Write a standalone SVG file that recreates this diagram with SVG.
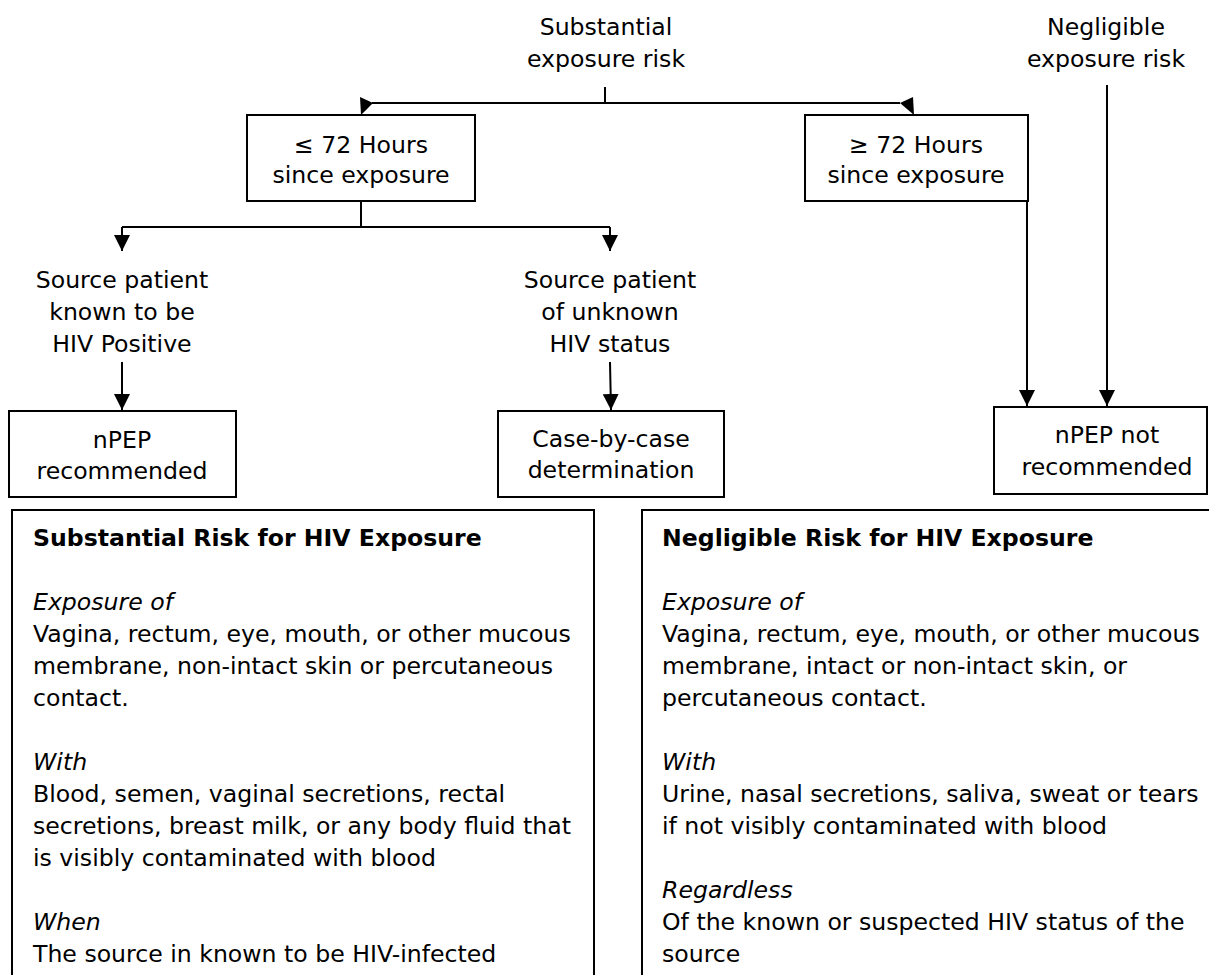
<svg xmlns="http://www.w3.org/2000/svg" width="1209" height="975" viewBox="0 0 1209 975">
<style>
.t{font-family:"DejaVu Sans",sans-serif;font-size:23.6px;fill:#000}
.c{text-anchor:middle}
.b{font-weight:bold}
.i{font-style:italic}
.box{fill:#fff;stroke:#000;stroke-width:2}
.ln{stroke:#000;stroke-width:2;fill:none}
.ah{fill:#000;stroke:none}
</style>
<defs>
<marker id="arr" markerUnits="userSpaceOnUse" markerWidth="16" markerHeight="16" viewBox="0 0 15 15" refX="15" refY="7.5" orient="auto">
<path d="M0,0 L15,7.5 L0,15 z" fill="#000"/>
</marker>
</defs>
<rect width="1209" height="975" fill="#fff"/>
<g id="connectors">
<path class="ln" d="M605,87 V103"/>
<path class="ln" d="M372,103 H900"/>
<polygon class="ah" points="360,97 373,103 361,115"/>
<polygon class="ah" points="900,103 913,97 914,115"/>
<path class="ln" d="M361,201 V227 M122,227 H610"/>
<path class="ln" d="M122,227 V251" marker-end="url(#arr)"/>
<path class="ln" d="M610,227 V251" marker-end="url(#arr)"/>
<path class="ln" d="M122,362 V410" marker-end="url(#arr)"/>
<path class="ln" d="M610,362 L611,410" marker-end="url(#arr)"/>
<path class="ln" d="M1027,158 V406" marker-end="url(#arr)"/>
<path class="ln" d="M1107,85 V406" marker-end="url(#arr)"/>
</g>
<g id="n-substantial">
<text class="t c" x="606" y="35">Substantial</text>
<text class="t c" x="606" y="67">exposure risk</text>
</g>
<g id="n-negligible">
<text class="t c" x="1106" y="35">Negligible</text>
<text class="t c" x="1106" y="67">exposure risk</text>
</g>
<g id="n-le72">
<rect class="box" x="247" y="115" width="228" height="86"/>
<text class="t c" x="361" y="153">≤ 72 Hours</text>
<text class="t c" x="361" y="183">since exposure</text>
</g>
<g id="n-ge72">
<rect class="box" x="805" y="115" width="223" height="86"/>
<text class="t c" x="916" y="153">≥ 72 Hours</text>
<text class="t c" x="916" y="183">since exposure</text>
</g>
<g id="n-known">
<text class="t c" x="122" y="288">Source patient</text>
<text class="t c" x="122" y="320">known to be</text>
<text class="t c" x="122" y="352">HIV Positive</text>
</g>
<g id="n-unknown">
<text class="t c" x="610" y="288">Source patient</text>
<text class="t c" x="610" y="320">of unknown</text>
<text class="t c" x="610" y="352">HIV status</text>
</g>
<g id="n-npep">
<rect class="box" x="9" y="411" width="227" height="86"/>
<text class="t c" x="122" y="448">nPEP</text>
<text class="t c" x="122" y="479">recommended</text>
</g>
<g id="n-case">
<rect class="box" x="498" y="411" width="226" height="86"/>
<text class="t c" x="611" y="447">Case-by-case</text>
<text class="t c" x="611" y="478">determination</text>
</g>
<g id="n-npep-not">
<rect class="box" x="994" y="407" width="213" height="87"/>
<text class="t c" x="1107" y="443">nPEP not</text>
<text class="t c" x="1107" y="475">recommended</text>
</g>
<g id="n-substantial-def">
<rect class="box" x="12" y="510" width="582" height="480"/>
<text class="t b" x="33" y="546">Substantial Risk for HIV Exposure</text>
<text class="t i" x="33" y="610">Exposure of</text>
<text class="t" x="33" y="642">Vagina, rectum, eye, mouth, or other mucous</text>
<text class="t" x="33" y="674">membrane, non-intact skin or percutaneous</text>
<text class="t" x="33" y="706">contact.</text>
<text class="t i" x="33" y="770">With</text>
<text class="t" x="33" y="802">Blood, semen, vaginal secretions, rectal</text>
<text class="t" x="33" y="834">secretions, breast milk, or any body fluid that</text>
<text class="t" x="33" y="866">is visibly contaminated with blood</text>
<text class="t i" x="33" y="930">When</text>
<text class="t" x="33" y="962">The source in known to be HIV-infected</text>
</g>
<g id="n-negligible-def">
<rect class="box" x="642" y="510" width="600" height="480"/>
<text class="t b" x="662" y="546">Negligible Risk for HIV Exposure</text>
<text class="t i" x="662" y="610">Exposure of</text>
<text class="t" x="662" y="642">Vagina, rectum, eye, mouth, or other mucous</text>
<text class="t" x="662" y="674">membrane, intact or non-intact skin, or</text>
<text class="t" x="662" y="706">percutaneous contact.</text>
<text class="t i" x="662" y="770">With</text>
<text class="t" x="662" y="802">Urine, nasal secretions, saliva, sweat or tears</text>
<text class="t" x="662" y="834">if not visibly contaminated with blood</text>
<text class="t i" x="662" y="898">Regardless</text>
<text class="t" x="662" y="930">Of the known or suspected HIV status of the</text>
<text class="t" x="662" y="962">source</text>
</g>
</svg>
